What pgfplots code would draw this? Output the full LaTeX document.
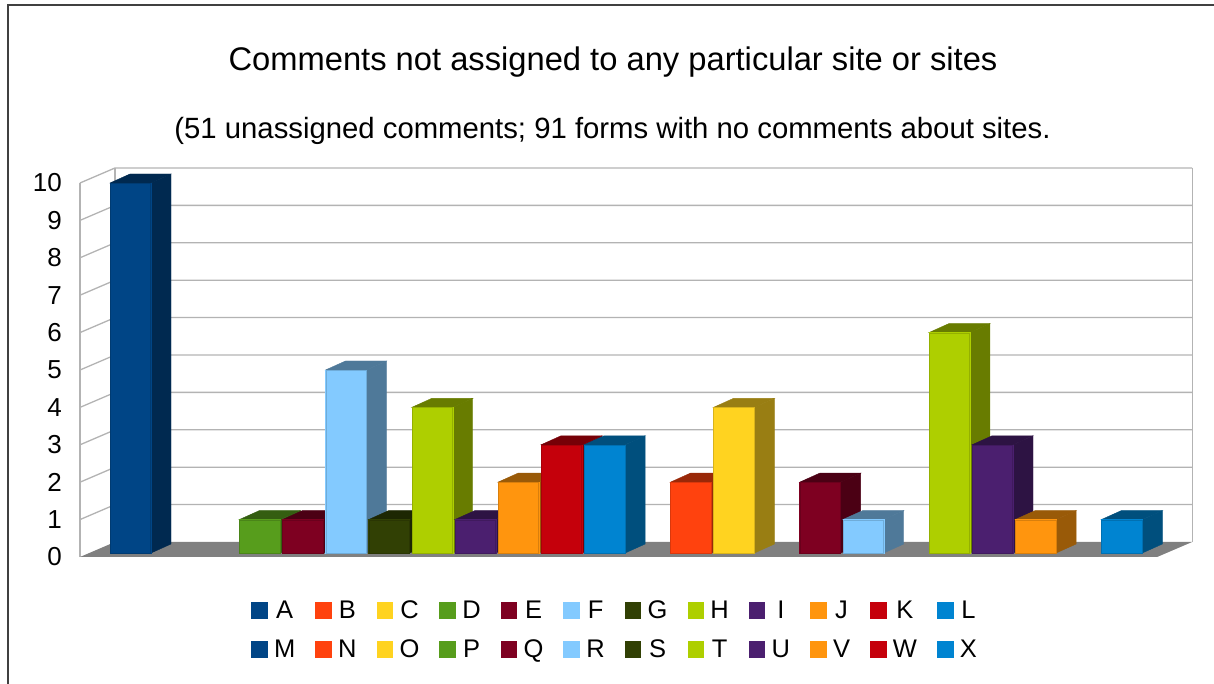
\documentclass[border=0pt]{standalone}
\usepackage{fontspec}
\setmainfont{Liberation Sans}
\usepackage{pgfplots}
\usepackage{pgfplotstable}
\pgfplotsset{compat=1.18}
\definecolor{col0}{HTML}{004586}
\definecolor{col1}{HTML}{FF420E}
\definecolor{col2}{HTML}{FFD320}
\definecolor{col3}{HTML}{579D1C}
\definecolor{col4}{HTML}{7E0021}
\definecolor{col5}{HTML}{83CAFF}
\definecolor{col6}{HTML}{314004}
\definecolor{col7}{HTML}{AECF00}
\definecolor{col8}{HTML}{4B1F6F}
\definecolor{col9}{HTML}{FF950E}
\definecolor{col10}{HTML}{C5000B}
\definecolor{col11}{HTML}{0084D1}
\colorlet{side0}{col0!60!black}
\colorlet{side1}{col1!60!black}
\colorlet{side2}{col2!60!black}
\colorlet{side3}{col3!60!black}
\colorlet{side4}{col4!60!black}
\colorlet{side5}{col5!60!black}
\colorlet{side6}{col6!60!black}
\colorlet{side7}{col7!60!black}
\colorlet{side8}{col8!60!black}
\colorlet{side9}{col9!60!black}
\colorlet{side10}{col10!60!black}
\colorlet{side11}{col11!60!black}
\definecolor{gridc}{HTML}{B3B3B3}
\definecolor{floorc}{HTML}{808080}

\pgfplotstableread{
x y c
0 10 0
1 0 1
2 0 2
3 1 3
4 1 4
5 5 5
6 1 6
7 4 7
8 1 8
9 2 9
10 3 10
11 3 11
12 0 0
13 2 1
14 4 2
15 0 3
16 2 4
17 1 5
18 0 6
19 6 7
20 3 8
21 1 9
22 0 10
23 1 11
}\bars

\pgfdeclareplotmark{bar3d}{%
  \ifdim\h pt>0pt
    \pgfmathtruncatemacro\cj{\ci}%
    \pgfmathsetlengthmacro\H{\h*37.4-4}%
    \fill[side\cj] (20.5pt,-\H) -- (40.5pt,-\H+9pt) -- (40.5pt,9pt) -- (20.5pt,0pt) -- cycle;
    \fill[side\cj] (-20.5pt,0pt) -- (-0.5pt,9pt) -- (40.5pt,9pt) -- (20.5pt,0pt) -- cycle;
    \fill[col\cj] (-20.5pt,-\H) rectangle (20.5pt,0pt);
    \draw[col\cj!85!black, line width=0.6pt] (-20.2pt,-\H) rectangle (20.2pt,-0.3pt);
  \fi
}

\pgfplotsset{limg/.style={legend image code/.code={\fill[#1] (0pt,-6.5pt) rectangle (15.5pt,9pt);}}}

\begin{document}
\begin{tikzpicture}
\draw[line width=1.5pt, black!75] (8pt,0pt) -- (8pt,679pt) -- (1214pt,679pt);
\node[anchor=base, font=\fontsize{32.7}{38}\selectfont] at (613pt,613pt) {Comments not assigned to any particular site or sites};
\node[anchor=base, font=\fontsize{29.3}{34}\selectfont] at (612.5pt,545pt) {(51 unassigned comments; 91 forms with no comments about sites.};
\begin{axis}[
  at={(80pt,127pt)}, anchor=south west,
  x=43.1pt, y=37.4pt,
  xmin=-1.172, xmax=23.82, ymin=0, ymax=10,
  clip=false,
  axis line style={draw=none},
  xtick=\empty,
  ytick={0,...,10},
  major tick length=0pt,
  yticklabel style={font=\fontsize{26}{30}\selectfont, anchor=east, inner sep=0pt, xshift=-18pt},
  /pgf/number format/assume math mode=true,
  legend columns=12,
  legend style={at={(0.4958,-0.198)}, anchor=center, draw=none, fill=none,
     font=\fontsize{25.5}{30}\selectfont,
     nodes={inner sep=0pt, text height=18pt, text depth=5pt, font=\fontsize{25.5}{30}\selectfont},
     row sep=16pt,
     /tikz/every odd column/.append style={column sep=7pt},
     /tikz/every even column/.append style={column sep=20pt}},
]
\pgfplotsinvokeforeach{1,...,10}{
  \draw[gridc, line width=1.3pt] (axis cs:-1.172,#1) -- ([shift={(35pt,15pt)}]axis cs:-1.172,#1) -- ([shift={(35pt,15pt)}]axis cs:23.82,#1);
}
\draw[gridc, line width=1.3pt] (axis cs:-1.172,0) -- (axis cs:-1.172,10);
\draw[gridc, line width=1.3pt] ([shift={(35pt,15pt)}]axis cs:-1.172,0) -- ([shift={(35pt,15pt)}]axis cs:-1.172,10);
\draw[gridc, line width=1.3pt] ([shift={(35pt,15pt)}]axis cs:23.82,0) -- ([shift={(35pt,15pt)}]axis cs:23.82,10);
\fill[floorc] (axis cs:-1.172,0) -- (axis cs:23.82,0) -- ([shift={(35pt,15pt)}]axis cs:23.82,0) -- ([shift={(35pt,15pt)}]axis cs:-1.172,0) -- cycle;
\addplot[only marks, mark=bar3d, forget plot,
  visualization depends on={\thisrow{y} \as \h},
  visualization depends on={\thisrow{c} \as \ci}] table {\bars};
\addlegendimage{limg=col0}
\addlegendimage{limg=col1}
\addlegendimage{limg=col2}
\addlegendimage{limg=col3}
\addlegendimage{limg=col4}
\addlegendimage{limg=col5}
\addlegendimage{limg=col6}
\addlegendimage{limg=col7}
\addlegendimage{limg=col8}
\addlegendimage{limg=col9}
\addlegendimage{limg=col10}
\addlegendimage{limg=col11}
\addlegendimage{limg=col0}
\addlegendimage{limg=col1}
\addlegendimage{limg=col2}
\addlegendimage{limg=col3}
\addlegendimage{limg=col4}
\addlegendimage{limg=col5}
\addlegendimage{limg=col6}
\addlegendimage{limg=col7}
\addlegendimage{limg=col8}
\addlegendimage{limg=col9}
\addlegendimage{limg=col10}
\addlegendimage{limg=col11}
\legend{A,B,C,D,E,F,G,H,I,J,K,L,M,N,O,P,Q,R,S,T,U,V,W,X}
\end{axis}
\pgfresetboundingbox
\useasboundingbox (0pt,0pt) rectangle (1214pt,684pt);
\end{tikzpicture}
\end{document}
